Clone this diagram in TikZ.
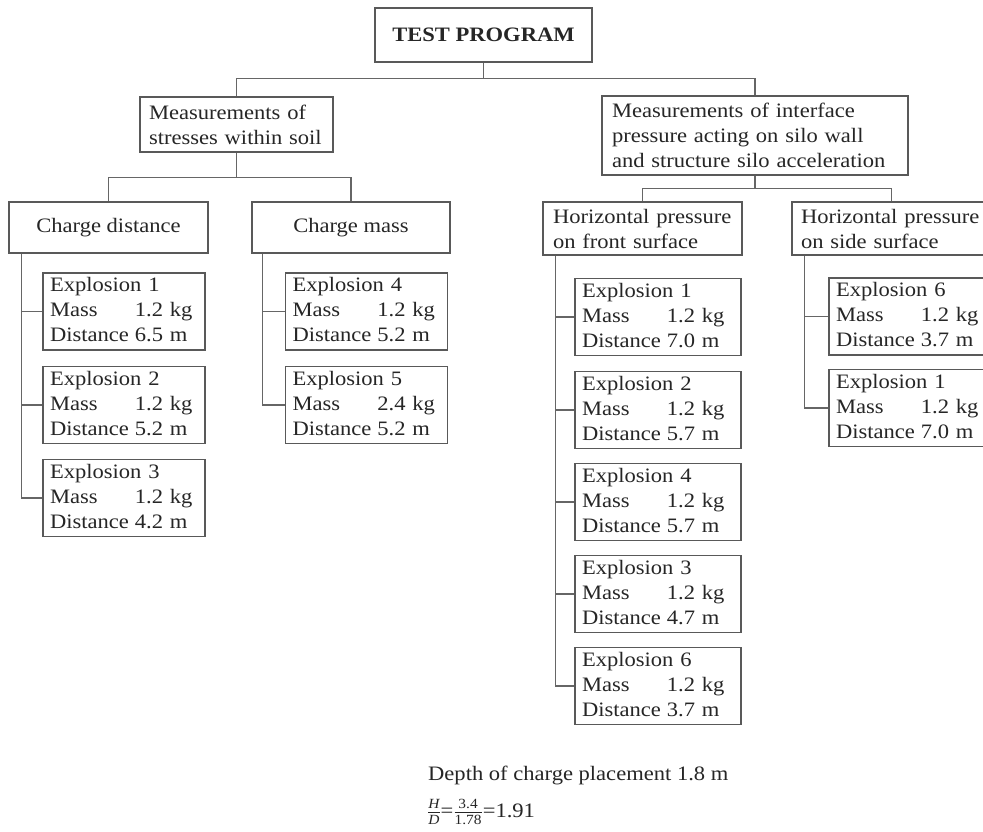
\documentclass[tikz,border=0pt]{standalone}
\usepackage{fontspec}
\setmainfont{Liberation Serif}[FakeStretch=1.1]
\newcommand{\explbox}[3]{\begin{tabular}{@{}l@{\hspace{6pt}}l@{}}\multicolumn{2}{@{}l@{}}{Explosion #1}\\Mass&#2\\Distance&#3\end{tabular}}
\newcommand{\smallpart}[1]{\mbox{\fontsize{14pt}{14pt}\selectfont #1}}
\tikzset{
  txt/.style={font={\fontsize{20.5pt}{25pt}\selectfont}, text=black!85},
  bx/.style={txt, draw=black!65, line width=1.2pt, inner sep=0pt},
  exbox/.style={bx, minimum width=162pt, minimum height=77pt, text width=148pt, align=left},
  exboxw/.style={bx, minimum width=166pt, minimum height=77pt, text width=152pt, align=left},
  ln/.style={draw=black!60, line width=1.2pt}
}
\begin{document}
\begin{tikzpicture}[x=1pt,y=-1pt]
\useasboundingbox (0,0) rectangle (983,832);
\fill[white] (0,0) rectangle (983,832);
\clip (0,0) rectangle (983,832);
% level 0
\node[bx, font={\fontsize{20.5pt}{25pt}\selectfont\bfseries}, minimum width=217pt, minimum height=54pt] (top) at (483.5,35) {TEST PROGRAM};
% level 1
\node[bx, minimum width=193pt, minimum height=55pt, text width=175pt, align=left] (ms) at (236.5,124.5) {Measurements of\\stresses within soil};
\node[bx, minimum width=306pt, minimum height=79pt, text width=286pt, align=left] (mi) at (755,135.5) {Measurements of interface\\pressure acting on silo wall\\and structure silo acceleration};
% level 2
\node[bx, minimum width=199pt, minimum height=51pt] (cd) at (108.5,227.5) {Charge distance};
\node[bx, minimum width=198pt, minimum height=51pt] (cm) at (351,227.5) {Charge mass};
\node[bx, minimum width=199pt, minimum height=53pt, text width=179pt, align=left] (hf) at (642.5,228.5) {Horizontal pressure\\on front surface};
\node[bx, minimum width=199pt, minimum height=53pt, text width=181pt, align=left] (hs) at (891.5,228.5) {Horizontal pressure\\on side surface};
% explosions
\node[exbox] (e1) at (124,311.5) {\explbox{1}{1.2 kg}{6.5 m}};
\node[exbox] (e2) at (124,405) {\explbox{2}{1.2 kg}{5.2 m}};
\node[exbox] (e3) at (124,498) {\explbox{3}{1.2 kg}{4.2 m}};
\node[exbox] (e4) at (366.5,311.5) {\explbox{4}{1.2 kg}{5.2 m}};
\node[exbox] (e5) at (366.5,405) {\explbox{5}{2.4 kg}{5.2 m}};
\node[exboxw] (f1) at (658,317) {\explbox{1}{1.2 kg}{7.0 m}};
\node[exboxw] (f2) at (658,410) {\explbox{2}{1.2 kg}{5.7 m}};
\node[exboxw] (f4) at (658,502) {\explbox{4}{1.2 kg}{5.7 m}};
\node[exboxw] (f3) at (658,594) {\explbox{3}{1.2 kg}{4.7 m}};
\node[exboxw] (f6) at (658,686) {\explbox{6}{1.2 kg}{3.7 m}};
\node[exbox] (s6) at (910,316.5) {\explbox{6}{1.2 kg}{3.7 m}};
\node[exbox] (s1) at (910,408) {\explbox{1}{1.2 kg}{7.0 m}};
% connectors
\draw[ln] (top.south) -- ++(0,16) coordinate (j0) -| (ms.north);
\draw[ln] (j0) -| (mi.north);
\draw[ln] (ms.south) -- ++(0,25) coordinate (j1) -| (cd.north);
\draw[ln] (j1) -| (cm.north);
\draw[ln] (mi.south) -- ++(0,13) coordinate (j2) -| (hf.north);
\draw[ln] (j2) -| (hs.north);
\coordinate (t1) at ([xshift=13pt]cd.south west);
\coordinate (t2) at ([xshift=11pt]cm.south west);
\coordinate (t3) at ([xshift=13pt]hf.south west);
\coordinate (t4) at ([xshift=13pt]hs.south west);
\draw[ln] (t1) |- (e3.west);
\draw[ln] (t1) |- (e1.west);
\draw[ln] (t1) |- (e2.west);
\draw[ln] (t2) |- (e5.west);
\draw[ln] (t2) |- (e4.west);
\draw[ln] (t3) |- (f6.west);
\draw[ln] (t3) |- (f1.west);
\draw[ln] (t3) |- (f2.west);
\draw[ln] (t3) |- (f4.west);
\draw[ln] (t3) |- (f3.west);
\draw[ln] (t4) |- (s1.west);
\draw[ln] (t4) |- (s6.west);
% bottom notes
\node[txt, anchor=west, inner sep=0pt] (depth) at (428,775) {Depth of charge placement 1.8 m};
\node[txt, anchor=west, inner sep=0pt] (ratio) at (427,812) {$\frac{\smallpart{\itshape H}}{\smallpart{\itshape D}}$\mbox{=}$\frac{\smallpart{3.4}}{\smallpart{1.78}}$\mbox{=1.91}};
\end{tikzpicture}
\end{document}
